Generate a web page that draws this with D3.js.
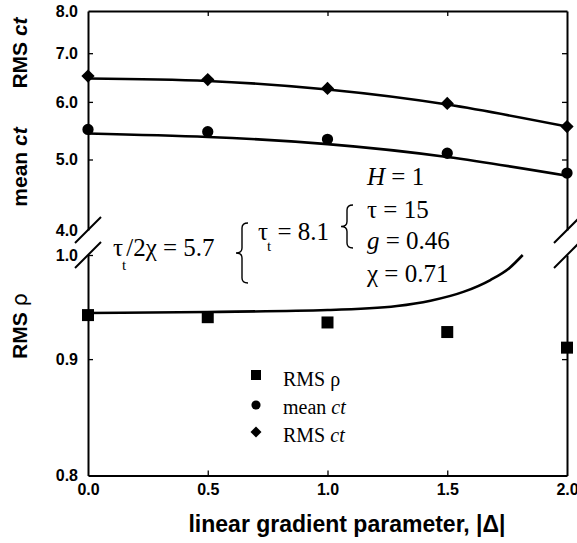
<!DOCTYPE html>
<html>
<head>
<meta charset="utf-8">
<script src="https://cdn.jsdelivr.net/npm/d3@7"></script>
<style>
  html, body { margin: 0; padding: 0; background: #fff; }
  svg { display: block; }
  .sans { font-family: "Liberation Sans", Arial, Helvetica, sans-serif; font-weight: bold; }
  .serif { font-family: "Liberation Serif", "Times New Roman", Times, serif; }
</style>
</head>
<body>
<svg id="chart" width="577" height="543"></svg>
<script>
// Gradient parameter |Δ| at which the simulations were run
const deltaValues = [0.0, 0.5, 1.0, 1.5, 2.0];

// Simulated points
const rmsCtValues  = [6.51, 6.44, 6.26, 5.97, 5.55];
const meanCtValues = [5.50, 5.46, 5.33, 5.10, 4.79];
const rmsRhoValues = [0.941, 0.939, 0.934, 0.925, 0.9105];

// Model curves
const fitX         = [0.0, 0.5, 1.0, 1.5, 2.0];
const fitRmsCt     = [6.46, 6.41, 6.24, 5.95, 5.55];
const fitMeanCt    = [5.43, 5.37, 5.25, 5.04, 4.75];
const fitRhoX      = [0.0, 0.5, 1.0, 1.29, 1.43, 1.57, 1.68, 1.76, 1.815];
const fitRho       = [0.943, 0.944, 0.9458, 0.9497, 0.9548, 0.9636, 0.975, 0.987, 1.0];

// Tick labels
const xTicks      = [0.0, 0.5, 1.0, 1.5, 2.0];
const yTopTicks   = [4, 5, 6, 7, 8];
const yBotTicks   = [0.8, 0.9, 1.0];

const svg = d3.select("#chart");
const L = 88, R = 567, T = 11, B = 475.5;
const topBreak = 230, botBreak = 255;

const x = d3.scaleLinear().domain([0, 2]).range([L, R]);
const yTop = d3.scaleLog().domain([4, 8]).range([topBreak, T]);
const yBot = d3.scaleLog().domain([0.8, 1.0]).range([B, botBreak]);

const fmt = d3.format(".1f");

function styleAxis(g, withLabels) {
  g.select(".domain").attr("stroke", "#000").attr("stroke-width", 2);
  g.selectAll(".tick line").attr("stroke", "#000").attr("stroke-width", 1.3);
  g.selectAll(".tick text")
    .attr("class", "sans")
    .attr("font-size", 16)
    .attr("fill", "#000")
    .style("display", withLabels ? null : "none");
}

// Left axes (upper and lower panels)
svg.append("g").attr("transform", `translate(${L},0)`)
  .call(d3.axisLeft(yTop).tickValues(yTopTicks).tickFormat(fmt).tickSizeInner(-5).tickSizeOuter(0).tickPadding(10))
  .call(g => styleAxis(g, true))
  .call(g => g.selectAll(".tick").filter(d => d === 4 || d === 8).select("line").remove());
svg.append("g").attr("transform", `translate(${L},0)`)
  .call(d3.axisLeft(yBot).tickValues(yBotTicks).tickFormat(fmt).tickSizeInner(-5).tickSizeOuter(0).tickPadding(10))
  .call(g => styleAxis(g, true))
  .call(g => g.selectAll(".tick").filter(d => d === 0.8).select("line").remove());

// Right axes
svg.append("g").attr("transform", `translate(${R},0)`)
  .call(d3.axisRight(yTop).tickValues([5, 6, 7]).tickSizeInner(-5).tickSizeOuter(0))
  .call(g => styleAxis(g, false));
svg.append("g").attr("transform", `translate(${R},0)`)
  .call(d3.axisRight(yBot).tickValues([0.9]).tickSizeInner(-5).tickSizeOuter(0))
  .call(g => styleAxis(g, false));

// Top and bottom axes
svg.append("g").attr("transform", `translate(0,${T})`)
  .call(d3.axisTop(x).tickValues([0.5, 1.0, 1.5]).tickSizeInner(-5).tickSizeOuter(0))
  .call(g => styleAxis(g, false));
svg.append("g").attr("transform", `translate(0,${B})`)
  .call(d3.axisBottom(x).tickValues(xTicks).tickFormat(fmt).tickSizeInner(-5).tickSizeOuter(0).tickPadding(8))
  .call(g => styleAxis(g, true))
  .call(g => g.selectAll(".tick").filter(d => d === 0 || d === 2).select("line").remove());

// Axis-break slashes
[[L, topBreak], [L, botBreak], [R, topBreak], [R, botBreak]].forEach(([cx, cy]) => {
  svg.append("line")
    .attr("x1", cx - 13).attr("y1", cy + 13)
    .attr("x2", cx + 13).attr("y2", cy - 13)
    .attr("stroke", "#000").attr("stroke-width", 2);
});

// Model curves
const lineTop = (vals) => d3.line().x((d, i) => x(fitX[i])).y(d => yTop(d)).curve(d3.curveNatural)(vals);
svg.append("path").attr("d", lineTop(fitRmsCt)).attr("fill", "none").attr("stroke", "#000").attr("stroke-width", 2.6);
svg.append("path").attr("d", lineTop(fitMeanCt)).attr("fill", "none").attr("stroke", "#000").attr("stroke-width", 2.6);
svg.append("path")
  .attr("d", d3.line().x((d, i) => x(fitRhoX[i])).y(d => yBot(d)).curve(d3.curveMonotoneX)(fitRho))
  .attr("fill", "none").attr("stroke", "#000").attr("stroke-width", 2.6);

// Markers
const square = d3.symbol().type(d3.symbolSquare);
const circle = d3.symbol().type(d3.symbolCircle);

svg.append("g").selectAll("path").data(rmsRhoValues).join("path")
  .attr("transform", (d, i) => `translate(${x(deltaValues[i])},${yBot(d)})`)
  .attr("d", square.size(144)());
svg.append("g").selectAll("path").data(meanCtValues).join("path")
  .attr("transform", (d, i) => `translate(${x(deltaValues[i])},${yTop(d)})`)
  .attr("d", circle.size(100)());
svg.append("g").selectAll("path").data(rmsCtValues).join("path")
  .attr("transform", (d, i) => `translate(${x(deltaValues[i])},${yTop(d)}) rotate(45)`)
  .attr("d", square.size(88)());

// Legend
const legend = svg.append("g");
const legendItems = [
  { sym: square.size(100)(), rot: 0, y: 375, base: 386, label: ["RMS ρ", ""] },
  { sym: circle.size(66)(), rot: 0, y: 405, base: 414, label: ["mean ", "ct"] },
  { sym: square.size(60)(), rot: 45, y: 432, base: 442, label: ["RMS ", "ct"] }
];
legendItems.forEach(it => {
  legend.append("path").attr("d", it.sym)
    .attr("transform", `translate(256,${it.y}) rotate(${it.rot})`);
  const t = legend.append("text").attr("class", "serif").attr("x", 283).attr("y", it.base).attr("font-size", 20);
  t.append("tspan").text(it.label[0]);
  if (it.label[1]) t.append("tspan").attr("font-style", "italic").text(it.label[1]);
});

// Y axis titles
function yTitle(cy, main, tail, tailStyle) {
  const t = svg.append("text").attr("class", "sans").attr("font-size", 21)
    .attr("text-anchor", "middle")
    .attr("transform", `translate(27,${cy}) rotate(-90)`);
  t.append("tspan").text(main);
  const s = t.append("tspan").text(tail);
  if (tailStyle === "italic") s.attr("font-style", "italic");
  if (tailStyle === "serif") s.attr("font-family", "'DejaVu Sans', sans-serif").attr("font-weight", "normal");
}
yTitle(53, "RMS ", "ct", "italic");
yTitle(167, "mean ", "ct", "italic");
yTitle(326, "RMS ", "ρ", "serif");

// X axis title
svg.append("text").attr("class", "sans").attr("font-size", 23)
  .attr("x", 347).attr("y", 532).attr("text-anchor", "middle")
  .text("linear gradient parameter, |Δ|");

// Parameter annotations
const ann = svg.append("g").attr("class", "serif").attr("font-size", 25);
{
  const t = ann.append("text").attr("x", 367).attr("y", 185);
  t.append("tspan").attr("font-style", "italic").text("H");
  t.append("tspan").text(" = 1");
}
ann.append("text").attr("x", 367).attr("y", 218).text("τ = 15");
{
  const t = ann.append("text").attr("x", 367).attr("y", 249);
  t.append("tspan").attr("font-style", "italic").text("g");
  t.append("tspan").text(" = 0.46");
}
ann.append("text").attr("x", 367).attr("y", 282).text("χ = 0.71");
{
  const t = ann.append("text").attr("x", 258).attr("y", 240);
  t.append("tspan").text("τ");
  t.append("tspan").attr("font-size", 15).attr("dy", 11).attr("dx", -1).text("t");
  t.append("tspan").attr("dy", -11).text(" = 8.1");
}
{
  const t = ann.append("text").attr("x", 113).attr("y", 256);
  t.append("tspan").text("τ");
  t.append("tspan").attr("font-size", 15).attr("dy", 14).attr("dx", -1).text("t");
  t.append("tspan").attr("dy", -14).text("/2χ = 5.7");
}

// Curly braces
function brace(xTip, y1, y2, w) {
  const mid = (y1 + y2) / 2, xm = xTip + w * 0.5, q = 5;
  return `M${xTip + w},${y1} Q${xm},${y1} ${xm},${y1 + q} L${xm},${mid - q} Q${xm},${mid} ${xTip},${mid}` +
         ` Q${xm},${mid} ${xm},${mid + q} L${xm},${y2 - q} Q${xm},${y2} ${xTip + w},${y2}`;
}
svg.append("path").attr("d", brace(236, 223, 283, 12)).attr("fill", "none").attr("stroke", "#000").attr("stroke-width", 1.4);
svg.append("path").attr("d", brace(341, 205, 248, 12)).attr("fill", "none").attr("stroke", "#000").attr("stroke-width", 1.4);
</script>
</body>
</html>
